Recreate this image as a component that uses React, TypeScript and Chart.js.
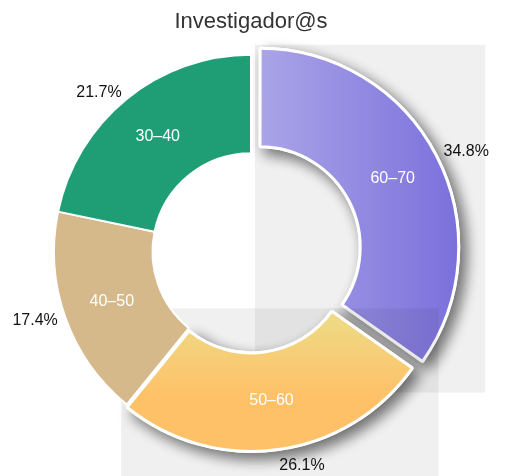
import React, { useEffect, useRef } from 'react';
import { Chart, registerables } from 'chart.js';

Chart.register(...registerables);

const chartTitle = 'Investigador@s';
const ageRanges = ['60–70', '50–60', '40–50', '30–40'];
const researcherCounts = [8, 6, 4, 5];

const FONT = "'Liberation Sans', Arial, Helvetica, sans-serif";

function arcGeom(el: any) {
  const o = el.options || {};
  const t = (o.offset || 0) / 4;
  const mid = (el.startAngle + el.endAngle) / 2;
  const circ = el.endAngle - el.startAngle;
  const fix = 1 - Math.sin(Math.min(Math.PI, circ));
  return {
    cx: el.x + Math.cos(mid) * t,
    cy: el.y + Math.sin(mid) * t,
    mid,
    rOut: el.outerRadius + t * fix,
    rIn: el.innerRadius + t * fix,
  };
}

const sliceDecor = {
  id: 'sliceDecor',
  beforeDatasetDraw(chart: any, args: any) {
    const ctx = chart.ctx;
    const meta = args.meta;
    meta.data.forEach((el: any) => {
      const o = el.options;
      if (o.offset > 0) {
        const g = arcGeom(el);
        const bw = (o.borderWidth || 0) / 2;
        let minX = Infinity, minY = Infinity, maxX = -Infinity, maxY = -Infinity;
        for (let k = 0; k <= 90; k++) {
          const a = el.startAngle + ((el.endAngle - el.startAngle) * k) / 90;
          for (const r of [g.rIn - bw, g.rOut + bw]) {
            const x = g.cx + Math.cos(a) * r;
            const y = g.cy + Math.sin(a) * r;
            minX = Math.min(minX, x); maxX = Math.max(maxX, x);
            minY = Math.min(minY, y); maxY = Math.max(maxY, y);
          }
        }
        ctx.save();
        ctx.fillStyle = 'rgba(0,0,0,0.06)';
        ctx.fillRect(minX - 5, minY - 2, maxX - minX + 30, maxY - minY + 32);
        ctx.shadowColor = 'rgba(0,0,0,0.55)';
        ctx.shadowBlur = 14;
        ctx.shadowOffsetX = 6;
        ctx.shadowOffsetY = 6;
        el.draw(ctx);
        ctx.restore();
        el.draw(ctx);
      } else {
        el.draw(ctx);
      }
    });
    return false;
  },
  afterDatasetsDraw(chart: any) {
    const ctx = chart.ctx;
    const meta = chart.getDatasetMeta(0);
    const data = chart.data.datasets[0].data as number[];
    const total = data.reduce((s, v) => s + v, 0);
    ctx.save();
    meta.data.forEach((el: any, i: number) => {
      const g = arcGeom(el);
      const cos = Math.cos(g.mid);
      const sin = Math.sin(g.mid);
      // inner category label
      const rm = (g.rIn + g.rOut) / 2;
      ctx.font = `16px ${FONT}`;
      ctx.fillStyle = '#ffffff';
      ctx.textAlign = 'center';
      ctx.textBaseline = 'middle';
      ctx.fillText(chart.data.labels[i], g.cx + cos * rm, g.cy + sin * rm);
      // outer percentage label
      const ro = g.rOut + 8;
      const pct = ((data[i] / total) * 100).toFixed(1) + '%';
      ctx.fillStyle = '#111111';
      ctx.textAlign = Math.abs(cos) < 0.05 ? 'center' : cos > 0 ? 'left' : 'right';
      ctx.textBaseline = sin > 0.9 ? 'top' : sin < -0.9 ? 'bottom' : 'middle';
      ctx.fillText(pct, g.cx + cos * ro, g.cy + sin * ro);
    });
    ctx.restore();
  },
};

export default function App() {
  const canvasRef = useRef<HTMLCanvasElement | null>(null);

  useEffect(() => {
    document.documentElement.style.overflow = 'hidden';
    document.body.style.overflow = 'hidden';
    const canvas = canvasRef.current;
    if (!canvas) return;
    const chart = new Chart(canvas, {
      type: 'doughnut',
      data: {
        labels: ageRanges,
        datasets: [
          {
            data: researcherCounts,
            backgroundColor: (c: any) => {
              const ch = c.chart;
              const area = ch.chartArea;
              const fallback = ['#8f87e0', '#f8c873', '#d6b98a', '#1f9e75'];
              if (!area) return fallback[c.dataIndex];
              const cx = (area.left + area.right) / 2;
              const cy = (area.top + area.bottom) / 2;
              const R = 197;
              if (c.dataIndex === 0) {
                const gr = ch.ctx.createLinearGradient(cx, 0, cx + R + 5, 0);
                gr.addColorStop(0, '#aaa5e8');
                gr.addColorStop(1, '#7a6fdb');
                return gr;
              }
              if (c.dataIndex === 1) {
                const gr = ch.ctx.createLinearGradient(0, cy + R * 0.3, 0, cy + R * 0.72);
                gr.addColorStop(0, '#eedb86');
                gr.addColorStop(1, '#fec168');
                return gr;
              }
              return fallback[c.dataIndex];
            },
            borderColor: '#ffffff',
            borderWidth: [3, 3, 2, 2],
            offset: [40, 11, 0, 0],
          },
        ],
      },
      options: {
        responsive: false,
        animation: false,
        events: [],
        radius: 197,
        cutout: '50%',
        layout: { padding: { left: 0, right: 8, top: 0, bottom: 18 } },
        plugins: {
          legend: { display: false },
          tooltip: { enabled: false },
          title: {
            display: true,
            text: chartTitle,
            color: '#333333',
            font: { size: 22, family: FONT, weight: 'normal' },
            padding: { top: 1, bottom: 10 },
          },
        },
      } as any,
      plugins: [sliceDecor as any],
    });
    return () => chart.destroy();
  }, []);

  return (
    <div style={{ width: 494, height: 468 }}>
      <canvas ref={canvasRef} width={494} height={468} style={{ display: 'block' }} />
    </div>
  );
}
